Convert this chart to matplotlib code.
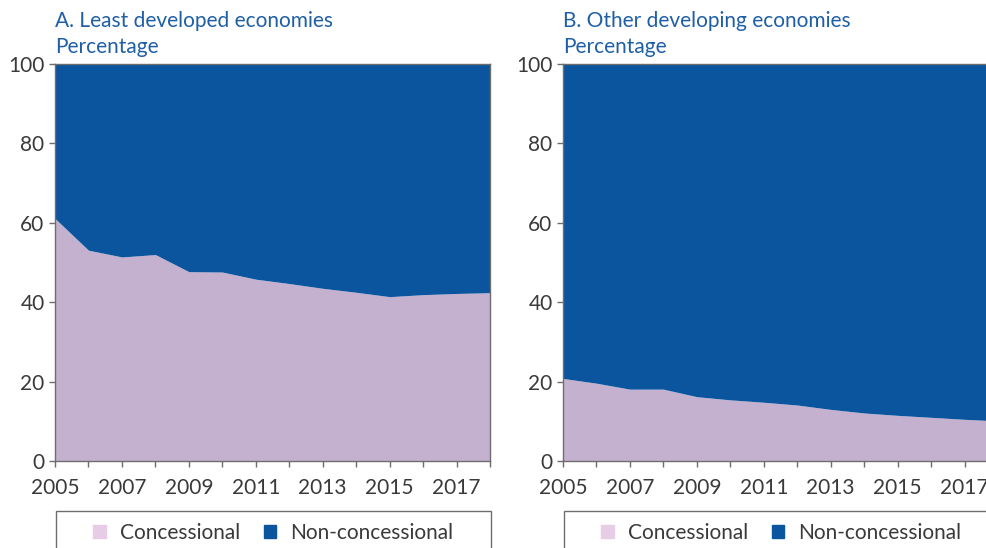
import matplotlib
matplotlib.use("Agg")
import matplotlib.pyplot as plt
from matplotlib.patches import Rectangle, Patch
import numpy as np

plt.rcParams["font.family"] = ["Lato", "DejaVu Sans"]

years = list(range(2005, 2019))
ldc_concessional = [61.1, 53.1, 51.4, 52.0, 47.7, 47.6, 45.8, 44.7, 43.5, 42.5, 41.4, 41.9, 42.2, 42.4]
odc_concessional = [20.8, 19.6, 18.1, 18.1, 16.2, 15.4, 14.8, 14.1, 13.0, 12.1, 11.5, 11.0, 10.5, 10.1]
panel_titles = ["A. Least developed economies", "B. Other developing economies"]
series_labels = ["Concessional", "Non-concessional"]
x_ticks = [2005, 2007, 2009, 2011, 2013, 2015, 2017]
y_ticks = [0, 20, 40, 60, 80, 100]

c_conc = "#c4b1cf"
c_conc_legend = "#e6cce4"
c_non = "#0b559e"
c_title = "#1f5fa6"
c_text = "#3a3a3a"
c_spine = "#6e6e6e"

W, H = 987, 548
fig = plt.figure(figsize=(W / 100, H / 100), dpi=100)

panel_left = [55, 563]
ax_w = 435
ax_top, ax_bot = 64, 461

for i, conc in enumerate([ldc_concessional, odc_concessional]):
    ax = fig.add_axes([panel_left[i] / W, (H - ax_bot) / H, ax_w / W, (ax_bot - ax_top) / H])
    conc = np.array(conc)
    ax.fill_between(years, 0, conc, color=c_conc, lw=0)
    ax.fill_between(years, conc, 100, color=c_non, lw=0)
    ax.set_xlim(2005, 2018)
    ax.set_ylim(0, 100)
    ax.set_xticks(years)
    ax.set_xticklabels([str(y) if y in x_ticks else "" for y in years])
    ax.set_yticks(y_ticks)
    ax.tick_params(axis="both", colors=c_spine, labelcolor=c_text, labelsize=15,
                   length=4, width=1)
    ax.tick_params(axis="x", pad=8)
    ax.tick_params(axis="y", pad=3.5)
    for s in ax.spines.values():
        s.set_color(c_spine)
        s.set_linewidth(1)
    ax.text(0, 1.092, panel_titles[i], transform=ax.transAxes, color=c_title,
            fontsize=15, ha="left", va="baseline")
    ax.text(0, 1.028, "Percentage", transform=ax.transAxes, color=c_title,
            fontsize=15, ha="left", va="baseline")

    # legend frame
    box_left = panel_left[i] + 1
    fig.patches.append(Rectangle((box_left / W, -0.05), ax_w / W, (H - 511) / H + 0.05,
                                 transform=fig.transFigure, fill=False,
                                 edgecolor=c_spine, lw=1))
    handles = [Patch(color=c_conc_legend), Patch(color=c_non)]
    fig.legend(handles, series_labels, loc="center",
               bbox_to_anchor=((box_left + ax_w / 2) / W, (H - 533) / H),
               ncol=2, frameon=False, fontsize=15, labelcolor=c_text,
               handlelength=0.6, handleheight=0.6, handletextpad=0.7,
               columnspacing=1.1, borderaxespad=0)

fig.savefig("out.png", dpi=100)
